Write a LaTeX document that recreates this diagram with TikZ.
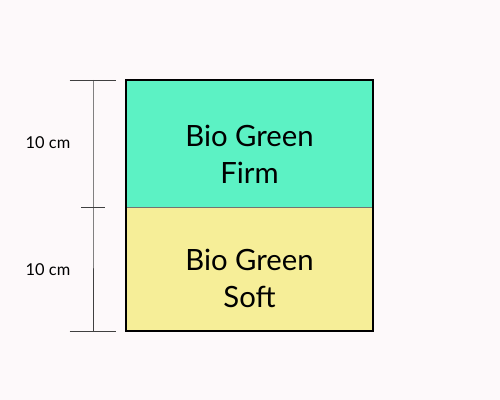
\documentclass[tikz,border=0pt]{standalone}
\usepackage{fontspec}
\setmainfont{Lato}
\definecolor{BGbg}{HTML}{FDF9FA}
\definecolor{BGfirm}{HTML}{5CF2C4}
\definecolor{BGsoft}{HTML}{F6EE98}
\usetikzlibrary{positioning}

\begin{document}
\begin{tikzpicture}[
  x=0.03cm,y=0.03cm,
  layer/.style={line width=0.3pt,draw=black!55},
  frame/.style={black,line width=1.3pt},
  dim/.style={black!75,line width=0.5pt},
  lbl/.style={font=\fontsize{25}{31.5}\selectfont,align=center,inner sep=0pt},
  dimlbl/.style={font=\fontsize{14}{16}\selectfont,inner sep=0pt}
]
  \def\xl{126}
  \def\xr{373}
  \def\ytop{320}
  \def\ymid{193}
  \def\ybot{69}
  \fill[BGbg] (0,0) rectangle (500,400);
  \useasboundingbox (0,0) rectangle (500,400);
  % layers
  \fill[BGfirm] (\xl,\ymid) rectangle (\xr,\ytop);
  \fill[BGsoft] (\xl,\ybot) rectangle (\xr,\ymid);
  \draw[layer] (\xl,\ymid) -- (\xr,\ymid);
  \draw[frame] (\xl,\ybot) rectangle (\xr,\ytop);
  \node[lbl] (firm) at (249.5,246) {Bio Green\\Firm};
  \node[lbl] (soft) at (249.5,122) {Bio Green\\Soft};
  % dimension line
  \coordinate (dtop) at (93,\ytop);
  \coordinate (dmid) at (93,\ymid);
  \coordinate (dbot) at (93,\ybot);
  \draw[dim] (dtop) -- (dmid) -- (dbot);
  \draw[dim] ([xshift=-20]dtop) -- ([xshift=20]dtop);
  \draw[dim] ([xshift=-10]dmid) -- ([xshift=10]dmid);
  \draw[dim] ([xshift=-20]dbot) -- ([xshift=20]dbot);
  \node[dimlbl] (upper) at (48,257) {10 cm};
  \node[dimlbl] (lower) at (48,130) {10 cm};
\end{tikzpicture}
\end{document}
